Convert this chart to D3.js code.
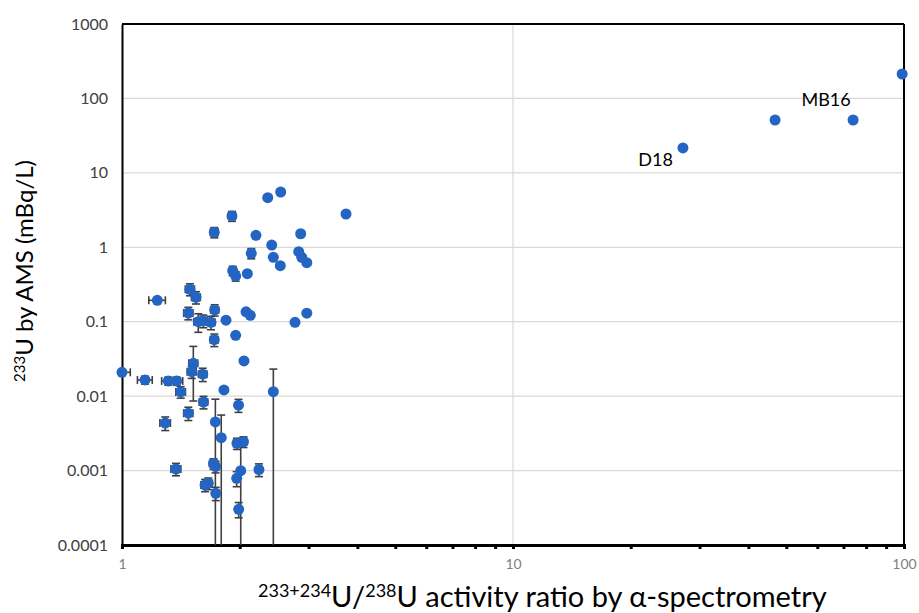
<!DOCTYPE html>
<html>
<head>
<meta charset="utf-8">
<script src="https://cdn.jsdelivr.net/npm/d3@7"></script>
<style>
  body { margin: 0; background: #fff; }
  svg { font-family: Lato, "Open Sans", sans-serif; }
</style>
</head>
<body>
<div id="chart"></div>
<script>
// 233+234U/238U activity ratio (alpha-spectrometry)
var ratio = [1.00, 1.231, 1.492, 1.546, 1.478, 1.726, 1.567, 1.614, 1.689, 1.845,
  2.076, 2.129, 1.722, 1.953, 1.522, 1.508, 1.609, 2.051, 1.145, 1.313,
  1.380, 1.413, 1.823, 2.438, 1.616, 1.986, 1.478, 1.290, 1.733, 1.794,
  1.968, 2.045, 1.374, 1.714, 1.735, 2.012, 1.965, 2.240, 1.631, 1.662,
  1.737, 1.988, 2.359, 2.546, 1.911, 1.722, 2.201, 2.864, 2.415, 2.141,
  2.438, 2.831, 2.882, 2.969, 2.540, 1.919, 1.953, 2.092, 2.770, 2.969,
  3.74, 27.2, 46.8, 74.1, 98.9];
// 233U by AMS (mBq/L)
var u233 = [0.0209, 0.194, 0.273, 0.213, 0.131, 0.144, 0.100, 0.103, 0.098, 0.105,
  0.136, 0.122, 0.0573, 0.0656, 0.0276, 0.0213, 0.0197, 0.0297, 0.0165, 0.0160,
  0.0160, 0.0114, 0.0121, 0.0115, 0.00834, 0.00755, 0.0059, 0.00435, 0.0045, 0.00277,
  0.00232, 0.00244, 0.00105, 0.00124, 0.00113, 0.000996, 0.000787, 0.00103, 0.00064, 0.000674,
  0.000495, 0.000302, 4.64, 5.53, 2.63, 1.59, 1.45, 1.52, 1.07, 0.830,
  0.733, 0.873, 0.733, 0.621, 0.566, 0.485, 0.411, 0.442, 0.0982, 0.130,
  2.80, 21.6, 51.3, 51.3, 213];
var ratioErr = [0.05, 0.06, 0.04, 0.04, 0.04, 0.04, 0.04, 0.04, 0.04, 0,
  0, 0, 0.04, 0, 0.04, 0.04, 0.04, 0, 0.05, 0.05,
  0.05, 0.04, 0, 0, 0.04, 0.03, 0.04, 0.04, 0, 0,
  0.04, 0.04, 0.04, 0.04, 0.03, 0, 0.03, 0.04, 0.04, 0.04,
  0.03, 0.03, 0, 0, 0.04, 0.04, 0, 0, 0, 0.04,
  0, 0, 0, 0, 0, 0.03, 0.03, 0, 0, 0,
  0, 0, 0, 0, 0];
var u233Err = [0, 0, 0.05, 0.04, 0.025, 0.025, 0.028, 0.02, 0.02, 0,
  0, 0, 0.011, 0, 0.019, 0.004, 0.004, 0, 0.002, 0.002,
  0.002, 0.002, 0, 0.0116, 0.0016, 0.0015, 0.0012, 0.0009, 0.0046, 0.0028,
  0.0004, 0.0004, 0.0002, 0.0002, 0.0002, 0.0011, 0.00018, 0.0002, 0.00012, 0.00012,
  0.0001, 0.00007, 0, 0, 0.4, 0.25, 0, 0, 0, 0.13,
  0, 0, 0, 0, 0, 0.07, 0.06, 0, 0, 0,
  0, 0, 0, 0, 0];
var xTicks = [1, 10, 100];
var yTicks = [0.0001, 0.001, 0.01, 0.1, 1, 10, 100, 1000];
var yTickLabels = ["0.0001", "0.001", "0.01", "0.1", "1", "10", "100", "1000"];
var pointLabels = ["D18", "MB16"];

var margin = {top: 24, right: 15, bottom: 68, left: 122},
  width = 919 - margin.left - margin.right,
  height = 613 - margin.top - margin.bottom;

var data = ratio.map(function(r, i) {
  return {x: r, y: u233[i], xe: ratioErr[i], ye: u233Err[i]};
});

var x = d3.scaleLog().domain([1, 100]).range([0, width]);
var y = d3.scaleLog().domain([0.0001, 1000]).range([height, 0]);

var svg = d3.select("#chart").append("svg")
  .attr("width", 919).attr("height", 613)
  .append("g").attr("transform", "translate(" + margin.left + "," + margin.top + ")");

// gridlines
svg.append("g").selectAll("line").data(yTicks.slice(1, -1)).enter().append("line")
  .attr("x1", 0).attr("x2", width)
  .attr("y1", function(d) { return y(d); }).attr("y2", function(d) { return y(d); })
  .attr("stroke", "#d9d9d9").attr("stroke-width", 1.2);
svg.append("line").attr("x1", x(10)).attr("x2", x(10)).attr("y1", 0).attr("y2", height)
  .attr("stroke", "#d9d9d9").attr("stroke-width", 1.2);

// x axis with minor ticks
var minor = d3.range(2, 10).concat(d3.range(20, 100, 10));
var xAxis = svg.append("g").attr("transform", "translate(0," + height + ")")
  .call(d3.axisBottom(x).tickValues(xTicks.concat(minor)).tickSize(4)
    .tickFormat(function(d) { return xTicks.indexOf(d) >= 0 ? d : ""; }));
xAxis.select(".domain").attr("stroke", "#000").attr("stroke-width", 3);
xAxis.selectAll(".tick line").attr("stroke", "#000").attr("stroke-width", 3);
xAxis.selectAll(".tick text").attr("font-size", 14).attr("fill", "#7f7f7f").attr("dy", "1.2em")
  .attr("font-family", "Lato, sans-serif");

// y axis
var yAxis = svg.append("g")
  .call(d3.axisLeft(y).tickValues(yTicks).tickSize(0).tickPadding(14)
    .tickFormat(function(d, i) { return yTickLabels[i]; }));
yAxis.select(".domain").attr("stroke", "#000").attr("stroke-width", 2);
yAxis.selectAll(".tick text").attr("font-size", 16).attr("fill", "#404040")
  .attr("font-family", "Lato, sans-serif");

// top and right border
svg.append("line").attr("x1", 0).attr("x2", width).attr("y1", 0).attr("y2", 0)
  .attr("stroke", "#000").attr("stroke-width", 2);
svg.append("line").attr("x1", width).attr("x2", width).attr("y1", 0).attr("y2", height)
  .attr("stroke", "#000").attr("stroke-width", 2);

// error bars
var errColor = "#404040", cap = 4;
var eb = svg.append("g").attr("stroke", errColor).attr("stroke-width", 1.6).attr("fill", "none");
data.forEach(function(d) {
  var cx = x(d.x), cy = y(d.y);
  if (d.ye > 0) {
    var top = y(d.y + d.ye);
    var lo = d.y - d.ye;
    var bot = lo > 0.0001 ? y(lo) : height;
    eb.append("line").attr("x1", cx).attr("x2", cx).attr("y1", top).attr("y2", bot);
    eb.append("line").attr("x1", cx - cap).attr("x2", cx + cap).attr("y1", top).attr("y2", top);
    if (lo > 0.0001) eb.append("line").attr("x1", cx - cap).attr("x2", cx + cap).attr("y1", bot).attr("y2", bot);
  }
  if (d.xe > 0) {
    var right = x(d.x + d.xe);
    var left = d.x - d.xe > 1 ? x(d.x - d.xe) : 0;
    eb.append("line").attr("x1", left).attr("x2", right).attr("y1", cy).attr("y2", cy);
    eb.append("line").attr("x1", right).attr("x2", right).attr("y1", cy - cap).attr("y2", cy + cap);
    if (d.x - d.xe > 1) eb.append("line").attr("x1", left).attr("x2", left).attr("y1", cy - cap).attr("y2", cy + cap);
  }
});

// points
svg.append("g").selectAll("circle").data(data).enter().append("circle")
  .attr("cx", function(d) { return x(d.x); })
  .attr("cy", function(d) { return y(d.y); })
  .attr("r", 5.5)
  .attr("fill", "#2465c3");

// point labels
svg.append("text").attr("x", x(ratio[61]) - 10).attr("y", y(u233[61]) + 18)
  .attr("text-anchor", "end").attr("font-size", 18).attr("fill", "#000").text(pointLabels[0]);
svg.append("text").attr("x", x(ratio[63]) - 27).attr("y", y(u233[63]) - 14)
  .attr("text-anchor", "middle").attr("font-size", 18).attr("fill", "#000").text(pointLabels[1]);

// axis titles
var xt = svg.append("text").attr("x", 136).attr("y", height + 62)
  .attr("text-anchor", "start").attr("font-size", 29).attr("fill", "#000");
xt.append("tspan").attr("font-size", 18).attr("dy", -10).text("233+234");
xt.append("tspan").attr("dy", 10).text("U/");
xt.append("tspan").attr("font-size", 18).attr("dy", -10).text("238");
xt.append("tspan").attr("dy", 10).text("U activity ratio by \u03b1-spectrometry");

var yt = svg.append("text").attr("transform", "translate(" + (-89) + "," + 247 + ") rotate(-90)")
  .attr("text-anchor", "middle").attr("font-size", 24).attr("fill", "#000");
yt.append("tspan").attr("font-size", 15).attr("dy", -8).text("233");
yt.append("tspan").attr("dy", 8).text("U by AMS (mBq/L)");
</script>
</body>
</html>
